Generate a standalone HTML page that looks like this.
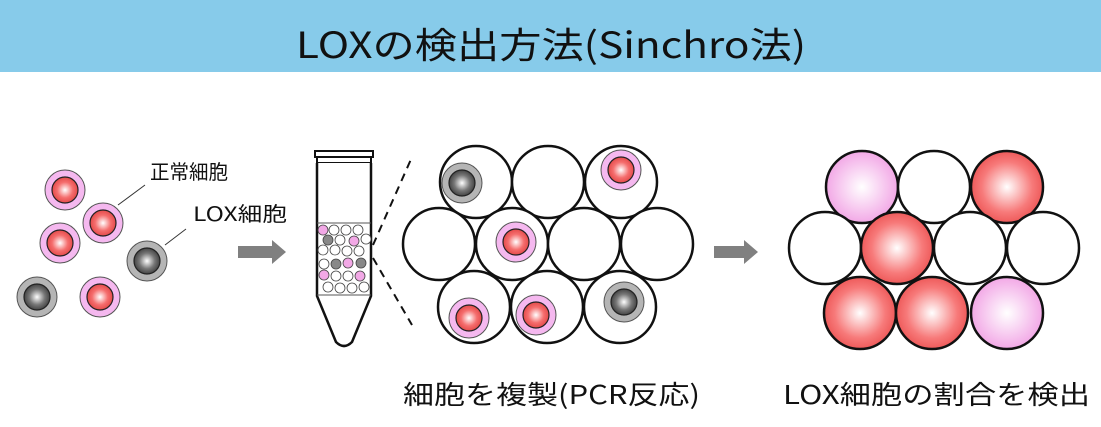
<!DOCTYPE html>
<html><head><meta charset="utf-8"><style>
body{margin:0;width:1101px;height:422px;background:#fff;overflow:hidden;font-family:"Liberation Sans","Noto Sans CJK JP",sans-serif}
</style></head><body>
<svg width="1101" height="422" xmlns="http://www.w3.org/2000/svg" font-family="'Noto Sans CJK JP','Liberation Sans',sans-serif">
<defs>
<radialGradient id="r"><stop offset="0" stop-color="#fff"/><stop offset="0.6" stop-color="#f56e6e"/><stop offset="1" stop-color="#e44a4a"/></radialGradient>
<radialGradient id="g"><stop offset="0" stop-color="#fff"/><stop offset="0.6" stop-color="#777"/><stop offset="1" stop-color="#444"/></radialGradient>
<radialGradient id="p"><stop offset="0" stop-color="#fff"/><stop offset="1" stop-color="#f2a8e6"/></radialGradient>
<radialGradient id="R"><stop offset="0" stop-color="#fff"/><stop offset="0.7" stop-color="#f77a7a"/><stop offset="1" stop-color="#ee5a5a"/></radialGradient>
<g id="nc"><circle r="20" fill="#f5b8ef" stroke="#555" stroke-width="1"/><circle r="13" fill="url(#r)" stroke="#222" stroke-width="1.2"/></g>
<g id="lc"><circle r="20" fill="#b5b5b5" stroke="#555" stroke-width="1"/><circle r="13" fill="url(#g)" stroke="#222" stroke-width="1.2"/></g>
</defs>
<rect x="0" y="0" width="1101" height="72" fill="#87cbea"/>
<text x="296" y="58" font-size="36" textLength="510" lengthAdjust="spacingAndGlyphs" fill="#111">LOXの検出方法(Sinchro法)</text>

<use href="#nc" x="65" y="190"/><use href="#nc" x="103" y="223"/><use href="#nc" x="60" y="243"/>
<use href="#lc" x="147" y="261"/><use href="#lc" x="37" y="297"/><use href="#nc" x="100" y="297"/>
<line x1="118" y1="205" x2="145" y2="185" stroke="#333" stroke-width="1"/>
<line x1="165" y1="245" x2="186" y2="229" stroke="#333" stroke-width="1"/>
<text x="150" y="179" font-size="20" textLength="78" lengthAdjust="spacingAndGlyphs" fill="#111">正常細胞</text>
<text x="193" y="221" font-size="20" textLength="94" lengthAdjust="spacingAndGlyphs" fill="#111">LOX細胞</text>

<polygon points="238,246 272,246 272,240 286,252 272,264 272,258 238,258" fill="#808080"/>
<polygon points="714,246 744,246 744,240 758,252 744,264 744,258 714,258" fill="#808080"/>

<rect x="315" y="151" width="58" height="6" fill="#fff" stroke="#111" stroke-width="2"/>
<rect x="317" y="157" width="54" height="6" fill="#fff" stroke="#111" stroke-width="2"/>
<path d="M317,163 V296 L336,342 Q344,350 352,342 L371,296 V163" fill="#fff" stroke="#111" stroke-width="2.5"/>
<line x1="317" y1="223" x2="371" y2="223" stroke="#555"/><line x1="317" y1="295" x2="371" y2="295" stroke="#555"/>
<g stroke="#444" stroke-width="0.8" fill="#fff">
<circle cx="323" cy="230" r="5" fill="#f2a8e6"/><circle cx="334" cy="230" r="5"/><circle cx="346" cy="230" r="5"/><circle cx="358" cy="230" r="5"/>
<circle cx="328" cy="240" r="5" fill="#888"/><circle cx="340" cy="240" r="5"/><circle cx="354" cy="241" r="5" fill="#f2a8e6"/><circle cx="366" cy="239" r="5"/>
<circle cx="323" cy="250" r="5"/><circle cx="335" cy="250" r="5"/><circle cx="347" cy="251" r="5"/><circle cx="359" cy="251" r="5"/>
<circle cx="324" cy="264" r="5"/><circle cx="336" cy="264" r="5" fill="#888"/><circle cx="348" cy="263" r="5" fill="#f2a8e6"/><circle cx="361" cy="263" r="5" fill="#888"/>
<circle cx="324" cy="275" r="5" fill="#f2a8e6"/><circle cx="336" cy="276" r="5"/><circle cx="348" cy="276" r="5"/><circle cx="360" cy="276" r="5" fill="#f2a8e6"/>
<circle cx="328" cy="287" r="5"/><circle cx="340" cy="288" r="5"/><circle cx="352" cy="288" r="5"/><circle cx="364" cy="287" r="5"/>
</g>
<line x1="373" y1="245" x2="412" y2="157" stroke="#111" stroke-width="2" stroke-dasharray="8,6"/>
<line x1="373" y1="258" x2="412" y2="325" stroke="#111" stroke-width="2" stroke-dasharray="8,6"/>

<g fill="#fff" stroke="#111" stroke-width="2.5">
<circle cx="476" cy="182" r="36"/><circle cx="548" cy="182" r="36"/><circle cx="621" cy="182" r="36"/>
<circle cx="439" cy="244" r="36"/><circle cx="512" cy="244" r="36"/><circle cx="584" cy="244" r="36"/><circle cx="657" cy="244" r="36"/>
<circle cx="474" cy="307" r="36"/><circle cx="547" cy="307" r="36"/><circle cx="620" cy="307" r="36"/>
</g>
<use href="#lc" x="462" y="183"/><use href="#nc" x="621" y="170"/><use href="#nc" x="516" y="242"/>
<use href="#nc" x="469" y="318"/><use href="#nc" x="536" y="315"/><use href="#lc" x="624" y="302"/>

<g stroke="#111" stroke-width="2.5">
<circle cx="862" cy="187" r="36" fill="url(#p)"/><circle cx="934" cy="187" r="36" fill="#fff"/><circle cx="1007" cy="187" r="36" fill="url(#R)"/>
<circle cx="825" cy="248" r="36" fill="#fff"/><circle cx="897" cy="248" r="36" fill="url(#R)"/><circle cx="970" cy="248" r="36" fill="#fff"/><circle cx="1043" cy="248" r="36" fill="#fff"/>
<circle cx="860" cy="313" r="36" fill="url(#R)"/><circle cx="932" cy="313" r="36" fill="url(#R)"/><circle cx="1007" cy="313" r="36" fill="url(#p)"/>
</g>

<text x="403" y="404" font-size="26" textLength="297" lengthAdjust="spacingAndGlyphs" fill="#111">細胞を複製(PCR反応)</text>
<text x="783" y="404" font-size="26" textLength="307" lengthAdjust="spacingAndGlyphs" fill="#111">LOX細胞の割合を検出</text>
</svg>
</body></html>
